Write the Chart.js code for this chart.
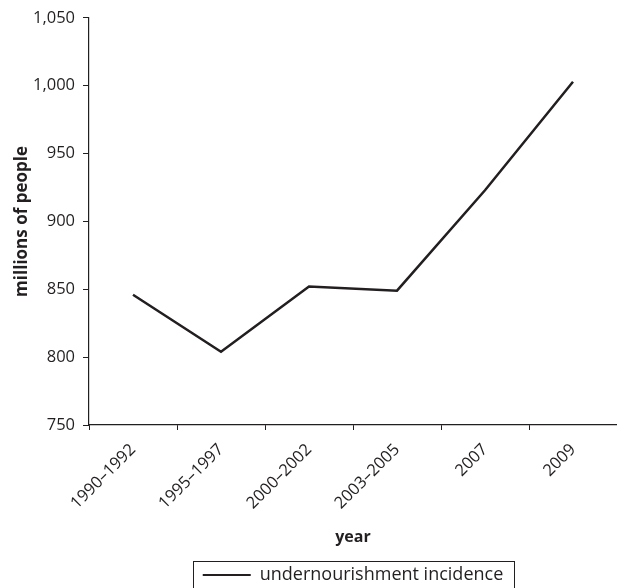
<!DOCTYPE html>
<html><head><meta charset="utf-8">
<script src="https://cdn.jsdelivr.net/npm/chart.js@4"></script>
<style>html,body{margin:0;padding:0;background:#fff}#wrap{width:617px;height:588px}</style>
</head><body><div id="wrap"><canvas id="c"></canvas></div>
<script>
const categories = ["1990–1992","1995–1997","2000–2002","2003–2005","2007","2009"];
const incidence = [846, 804, 852, 849, 923, 1003];
const seriesName = "undernourishment incidence";
const yMin = 750, yMax = 1050, yStep = 50;

const ink = "#231f20";
const FONT = "'Open Sans', 'Liberation Sans', sans-serif";

const legendBorder = {
  id: 'legendBorder',
  afterDraw(chart) {
    const lg = chart.legend;
    if (!lg || !lg.legendHitBoxes || !lg.legendHitBoxes.length) return;
    const h = lg.legendHitBoxes[0];
    const ctx = chart.ctx;
    ctx.save();
    ctx.strokeStyle = ink;
    ctx.lineWidth = 1;
    ctx.strokeRect(Math.round(h.left - 10) + 0.5, Math.round(h.top - 5) + 0.5, Math.round(h.width + 20), Math.round(h.height + 10));
    ctx.restore();
  }
};

new Chart(document.getElementById('c'), {
  type: 'line',
  data: {
    labels: categories,
    datasets: [{
      label: seriesName,
      data: incidence,
      borderColor: ink,
      backgroundColor: ink,
      borderWidth: 2.5,
      pointRadius: 0,
      tension: 0,
      fill: false
    }]
  },
  options: {
    responsive: true,
    maintainAspectRatio: false,
    animation: false,
    layout: { padding: { top: 6, right: -8, left: 0, bottom: -6 } },
    plugins: {
      legend: {
        position: 'bottom',
        fullSize: false,
        labels: {
          color: ink,
          font: { family: FONT, size: 18 },
          boxWidth: 48,
          boxHeight: 2,
          padding: 4,
          generateLabels(chart) {
            return [{ text: seriesName, fillStyle: ink, strokeStyle: ink, lineWidth: 0, datasetIndex: 0, fontColor: ink }];
          }
        }
      },
      tooltip: { enabled: false }
    },
    scales: {
      x: {
        offset: true,
        grid: { display: true, offset: true, drawOnChartArea: false, drawTicks: true, tickLength: 5, color: ink, lineWidth: 1 },
        border: { display: true, color: ink, width: 1.2 },
        ticks: { color: ink, font: { family: FONT, size: 16.5 }, maxRotation: 45, minRotation: 45, padding: 10 },
        title: { display: true, text: 'year', color: ink, font: { family: FONT, size: 16, weight: 'bold' }, padding: { top: 4, bottom: 15 } },
        afterFit(scale) { scale.height = 137; }
      },
      y: {
        min: yMin, max: yMax,
        grid: { display: true, drawOnChartArea: false, drawTicks: true, tickLength: 6, color: ink, lineWidth: 1 },
        border: { display: true, color: ink, width: 1.2 },
        ticks: { stepSize: yStep, color: ink, font: { family: FONT, size: 16.5 }, padding: 8,
          callback: v => v.toLocaleString('en-US') },
        title: { display: true, text: 'millions of people', color: ink, font: { family: FONT, size: 17, weight: 'bold' }, padding: { top: 12, bottom: 4 } },
        afterFit(scale) { scale.width = 89; }
      }
    }
  },
  plugins: [legendBorder]
});
</script></body></html>
